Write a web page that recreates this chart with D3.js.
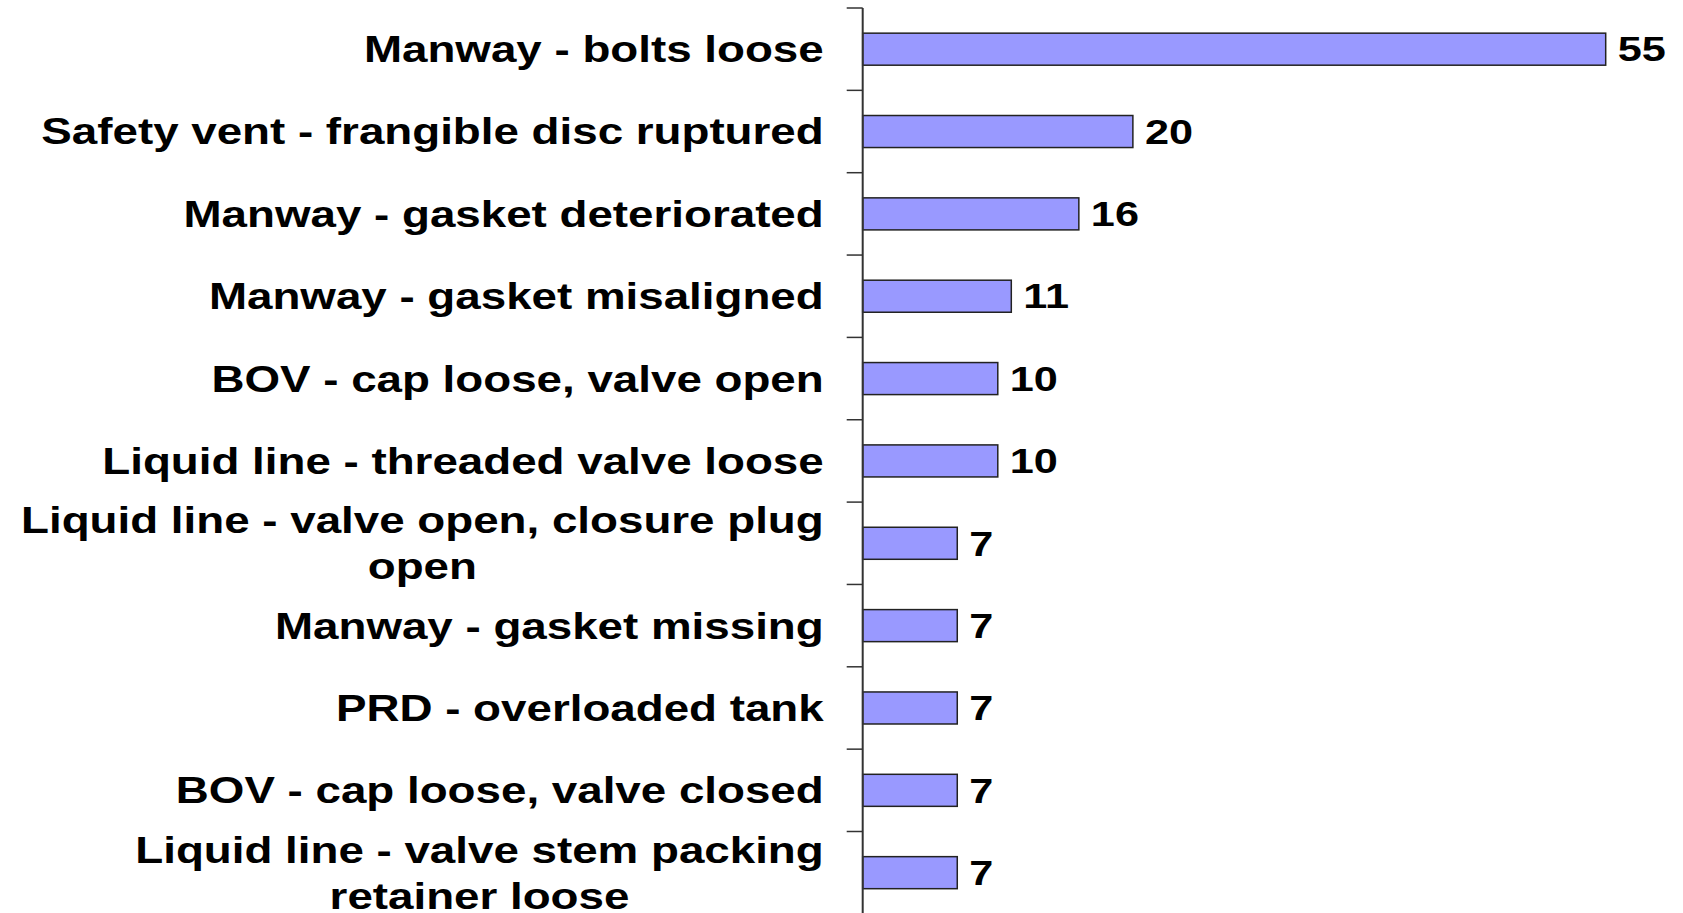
<!DOCTYPE html>
<html>
<head>
<meta charset="utf-8">
<script src="https://cdn.jsdelivr.net/npm/d3@7"></script>
<style>
  body { margin: 0; background: #fff; }
  svg { display: block; }
  .label, .value { font-family: "Liberation Sans", Arial, sans-serif; font-weight: bold; fill: #000; }
</style>
</head>
<body>
<svg id="svg_bar" width="1683" height="913"></svg>
<script>
// causes, top to bottom; "\n" marks where the label wraps
var causes = [
    "Manway - bolts loose",
    "Safety vent - frangible disc ruptured",
    "Manway - gasket deteriorated",
    "Manway - gasket misaligned",
    "BOV - cap loose, valve open",
    "Liquid line - threaded valve loose",
    "Liquid line - valve open, closure plug\nopen",
    "Manway - gasket missing",
    "PRD - overloaded tank",
    "BOV - cap loose, valve closed",
    "Liquid line - valve stem packing\nretainer loose"
];
var counts = [55, 20, 16, 11, 10, 10, 7, 7, 7, 7, 7];

function drawBarChart() {
    var svg = d3.select("#svg_bar"),
        axisX = 862.7,
        top = 8,
        step = 82.35,
        stretch = 1.236;   // the original picture is stretched sideways

    var data = causes.map(function(c, i) { return {cause: c, count: counts[i]}; });

    var x = d3.scaleLinear().domain([0, 55]).range([axisX, 1605.7]);
    var y = d3.scaleBand()
        .domain(causes)
        .range([top, top + step * causes.length])
        .paddingInner(0.611)
        .paddingOuter(0.3055);

    svg.selectAll(".bar")
        .data(data)
        .enter().append("rect")
        .attr("class", "bar")
        .attr("x", x(0))
        .attr("y", function(d) { return y(d.cause); })
        .attr("width", function(d) { return x(d.count) - x(0); })
        .attr("height", y.bandwidth())
        .attr("fill", "#9999ff")
        .attr("stroke", "#222")
        .attr("stroke-width", 1.5);

    // axis line with ticks between categories
    var ax = svg.append("g").attr("class", "axis");
    ax.append("line")
        .attr("x1", axisX).attr("x2", axisX)
        .attr("y1", top).attr("y2", top + y.step() * causes.length)
        .attr("stroke", "#333").attr("stroke-width", 2);
    ax.selectAll(".tick")
        .data(d3.range(causes.length + 1))
        .enter().append("line")
        .attr("class", "tick")
        .attr("x1", axisX - 16).attr("x2", axisX)
        .attr("y1", function(i) { return top + i * y.step(); })
        .attr("y2", function(i) { return top + i * y.step(); })
        .attr("stroke", "#333").attr("stroke-width", 1.5);

    // category labels, right aligned, wrapped lines centred on each other
    var labels = svg.selectAll(".label")
        .data(data)
        .enter().append("g")
        .attr("transform", function(d) {
            return "translate(" + (axisX - 39) + "," + (y(d.cause) + y.bandwidth() / 2) + ") scale(" + stretch + ",1)";
        });

    labels.each(function(d) {
        var g = d3.select(this),
            lines = d.cause.split("\n"),
            lineH = 46,
            t = g.append("text")
                .attr("class", "label")
                .style("font-size", "37px");
        if (lines.length == 1) {
            t.attr("text-anchor", "end").attr("dy", "0.35em").text(lines[0]);
            return;
        }
        // measure the widest line so the block ends at the anchor
        t.text(lines[0]);
        var w = t.node().getComputedTextLength();
        t.text(null).attr("text-anchor", "middle");
        lines.forEach(function(line, i) {
            t.append("tspan")
                .attr("x", -w / 2)
                .attr("y", (i - (lines.length - 1) / 2) * lineH)
                .attr("dy", "0.35em")
                .text(line);
        });
    });

    // value labels
    svg.selectAll(".value")
        .data(data)
        .enter().append("text")
        .attr("class", "value")
        .style("font-size", "35px")
        .attr("dy", "0.35em")
        .attr("transform", function(d) {
            return "translate(" + (x(d.count) + 12) + "," + (y(d.cause) + y.bandwidth() / 2) + ") scale(" + stretch + ",1)";
        })
        .text(function(d) { return d.count; });
}

drawBarChart();
</script>
</body>
</html>
